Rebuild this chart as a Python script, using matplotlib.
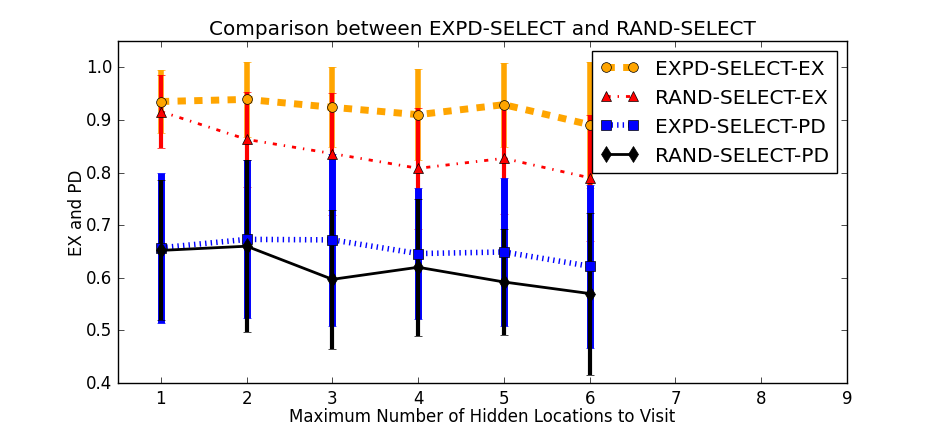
import matplotlib
matplotlib.use("Agg")
import matplotlib.pyplot as plt

plt.style.use("classic")

x = [1, 2, 3, 4, 5, 6]

expd_ex = [0.935, 0.939, 0.924, 0.910, 0.929, 0.891]
expd_ex_err = [0.060, 0.072, 0.076, 0.087, 0.080, 0.120]

rand_ex = [0.916, 0.863, 0.836, 0.808, 0.827, 0.790]
rand_ex_err = [0.070, 0.090, 0.116, 0.115, 0.105, 0.120]

expd_pd = [0.657, 0.673, 0.672, 0.646, 0.649, 0.622]
expd_pd_err = [0.143, 0.150, 0.163, 0.124, 0.140, 0.155]

rand_pd = [0.652, 0.660, 0.597, 0.620, 0.592, 0.570]
rand_pd_err = [0.133, 0.163, 0.132, 0.130, 0.100, 0.154]

fig = plt.figure(figsize=(9.41, 4.27), dpi=100)
ax = fig.add_axes([118 / 941, 1 - 384 / 427, (847 - 118) / 941, (384 - 42) / 427])

e1 = ax.errorbar(x, expd_ex, yerr=expd_ex_err, color="orange", ecolor="orange",
                 linestyle="--", linewidth=5, elinewidth=4, capsize=3,
                 marker="o", markersize=7, markerfacecolor="orange",
                 markeredgecolor="black", label="EXPD-SELECT-EX")
e2 = ax.errorbar(x, rand_ex, yerr=rand_ex_err, color="red", ecolor="red",
                 linestyle="-.", linewidth=2, elinewidth=3, capsize=3,
                 marker="^", markersize=7, markerfacecolor="red",
                 markeredgecolor="black", label="RAND-SELECT-EX")
e3 = ax.errorbar(x, expd_pd, yerr=expd_pd_err, color="blue", ecolor="blue",
                 linestyle=":", linewidth=4, elinewidth=5, capsize=3,
                 marker="s", markersize=7, markerfacecolor="blue",
                 markeredgecolor="black", label="EXPD-SELECT-PD")
e4 = ax.errorbar(x, rand_pd, yerr=rand_pd_err, color="black", ecolor="black",
                 linestyle="-", linewidth=2, elinewidth=3, capsize=3,
                 marker="d", markersize=8, markerfacecolor="black",
                 markeredgecolor="black", label="RAND-SELECT-PD")

ax.set_xlim(0.5, 9)
ax.set_ylim(0.4, 1.05)
ax.set_xticks(range(1, 10))
ax.set_xlabel("Maximum Number of Hidden Locations to Visit", labelpad=0)
ax.set_ylabel("EX and PD", labelpad=0)
ax.set_title("Comparison between EXPD-SELECT and RAND-SELECT")

handles = [e[0] for e in (e1, e2, e3, e4)]
labels = [e.get_label() for e in (e1, e2, e3, e4)]
ax.legend(handles, labels, loc="upper right", numpoints=2, fontsize=14.5,
          handlelength=1.9)

fig.savefig("out.png", dpi=100)
